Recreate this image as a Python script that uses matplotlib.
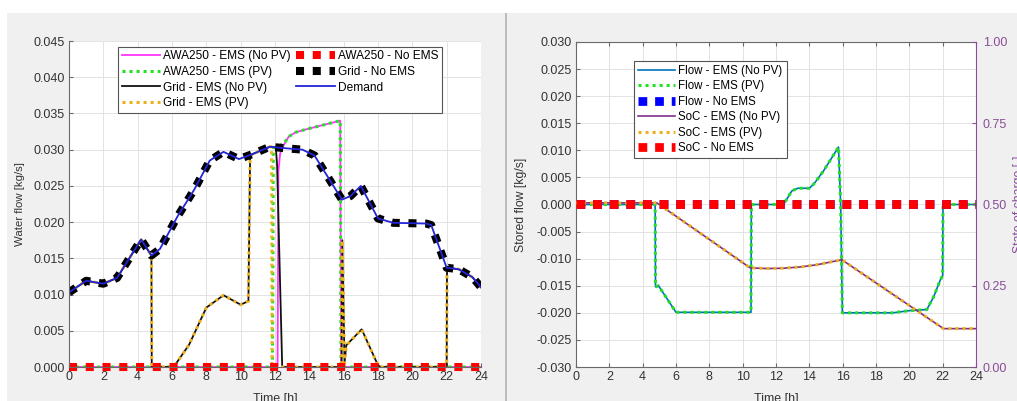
import matplotlib
matplotlib.use('Agg')
import matplotlib.pyplot as plt
from matplotlib.patches import Rectangle

plt.rcParams['font.family'] = ['Liberation Sans', 'DejaVu Sans']

# ---------------- left chart data (water flow) ----------------
t_dem = [0, 1, 2, 2.8, 4.2, 4.8, 5.3, 6.3, 7.3, 8.2, 9.0, 9.9, 10.7, 11.7, 12.6, 13.6,
         14.3, 15.9, 16.4, 17.0, 18.0, 18.9, 20.8, 21.1, 22.0, 22.7, 23.5, 24]
dem = [0.0103, 0.0119, 0.0115, 0.0123, 0.0176, 0.0154, 0.0163, 0.0207, 0.0245, 0.0285,
       0.0297, 0.0287, 0.0294, 0.0304, 0.0302, 0.0300, 0.0292, 0.0231, 0.0236, 0.0250,
       0.0205, 0.0199, 0.0198, 0.0196, 0.0137, 0.0135, 0.0124, 0.0110]

t_awa_nopv = [0, 12.15, 12.2, 12.3, 12.5, 12.8, 13.2, 13.8, 15.8, 15.85, 24]
awa_nopv = [0, 0, 0.0270, 0.0295, 0.0306, 0.0318, 0.0324, 0.0328, 0.0340, 0, 0]

t_awa_pv = [0, 11.85, 11.9, 12.5, 12.8, 13.2, 13.8, 15.8, 15.85, 24]
awa_pv = [0, 0, 0.0302, 0.0308, 0.0318, 0.0324, 0.0328, 0.0340, 0, 0]

t_grid_pv = [0, 1, 2, 2.8, 4.2, 4.8, 4.82, 6.1, 7.0, 8.0, 9.0, 10.0, 10.45, 10.55, 10.7,
             11.7, 11.8, 11.83, 15.88, 15.92, 16.05, 16.15, 17.05, 17.95, 18.1, 22.0,
             22.02, 22.7, 23.5, 24]
grid_pv = [0.0103, 0.0119, 0.0115, 0.0123, 0.0176, 0.0154, 0, 0, 0.0031, 0.0082, 0.0099,
           0.0086, 0.0091, 0.0291, 0.0294, 0.0304, 0.0304, 0, 0, 0.0175, 0.0005, 0.0030,
           0.0052, 0.0005, 0, 0, 0.0137, 0.0135, 0.0124, 0.0110]

t_grid_nopv = [0, 1, 2, 2.8, 4.2, 4.8, 4.82, 6.1, 7.0, 8.0, 9.0, 10.0, 10.45, 10.55, 10.7,
               11.7, 12.05, 12.12, 12.42, 15.88, 15.92, 16.05, 16.15, 17.05, 17.95, 18.1,
               22.0, 22.02, 22.7, 23.5, 24]
grid_nopv = [0.0103, 0.0119, 0.0115, 0.0123, 0.0176, 0.0154, 0, 0, 0.0031, 0.0082, 0.0099,
             0.0086, 0.0091, 0.0291, 0.0294, 0.0304, 0.0303, 0.0280, 0, 0, 0.0175, 0.0005,
             0.0030, 0.0052, 0.0005, 0, 0, 0.0137, 0.0135, 0.0124, 0.0110]

t_awa_noems = [0, 24]
awa_noems = [0, 0]

# ---------------- right chart data (storage) ----------------
t_flow = [0, 4.75, 4.77, 4.95, 6.0, 10.5, 10.52, 12.45, 12.95, 13.3, 14.0, 14.3, 14.85,
          15.75, 15.88, 15.98, 19.0, 20.0, 21.05, 21.45, 21.85, 22.0, 22.02, 24]
flow = [0, 0, -0.0152, -0.0150, -0.0199, -0.0199, 0, 0, 0.0025, 0.0030, 0.0030, 0.0039,
        0.0062, 0.0106, 0, -0.0200, -0.0200, -0.0196, -0.0194, -0.0171, -0.0140, -0.0131,
        0, 0]

t_soc = [0, 4.85, 10.45, 11.5, 12.45, 13.5, 14.5, 15.95, 22.05, 24]
soc = [0.505, 0.505, 0.305, 0.303, 0.304, 0.308, 0.315, 0.330, 0.118, 0.118]

t_noems = [0, 24]
flow_noems = [0, 0]
soc_noems = [0.5, 0.5]

xticks = list(range(0, 25, 2))

# ---------------- figure ----------------
W, H = 1017, 401
fig = plt.figure(figsize=(W / 100, H / 100), dpi=100, facecolor='white')
fig.patches.append(Rectangle((7 / W, 0), 498 / W, 388 / H, transform=fig.transFigure,
                             facecolor='#f0f0f0', edgecolor='none', zorder=-10))
fig.patches.append(Rectangle((505 / W, 0), 2 / W, 388 / H, transform=fig.transFigure,
                             facecolor='#bcbcbc', edgecolor='none', zorder=-10))
fig.patches.append(Rectangle((507 / W, 0), 510 / W, 388 / H, transform=fig.transFigure,
                             facecolor='#f0f0f0', edgecolor='none', zorder=-10))

ax1 = fig.add_axes([69 / W, 34 / H, 412 / W, 326 / H])
ax3 = fig.add_axes([576 / W, 34 / H, 400 / W, 325 / H])

thick = dict(linewidth=5.8, dashes=(1, 1.08), dash_capstyle='butt')
thick_r = dict(linewidth=6.3, dashes=(1, 0.9), dash_capstyle='butt')
dot = dict(linewidth=2.2, dashes=(1, 1.3), dash_capstyle='butt')

# left
ax1.plot(t_awa_nopv, awa_nopv, color='#ff33ff', linewidth=1.3, label='AWA250 - EMS (No PV)')
ax1.plot(t_awa_pv, awa_pv, color='#22e022', label='AWA250 - EMS (PV)', **dot)
ax1.plot(t_grid_nopv, grid_nopv, color='#111111', linewidth=1.3, label='Grid - EMS (No PV)')
ax1.plot(t_grid_pv, grid_pv, color='#EDB120', label='Grid - EMS (PV)', **dot)
ax1.plot(t_awa_noems, awa_noems, color='#ff0000', label='AWA250 - No EMS', clip_on=False, **thick)
ax1.plot(t_dem, dem, color='#000000', label='Grid - No EMS', **thick)
ax1.plot(t_dem, dem, color='#2424d8', linewidth=1.3, label='Demand')

ax1.set_xlim(0, 24)
ax1.set_ylim(0, 0.045)
ax1.set_xticks(xticks)
ax1.set_yticks([i * 0.005 for i in range(10)])
ax1.set_yticklabels(['%.3f' % (i * 0.005) for i in range(10)])
ax1.grid(True, color='#e3e3e3', linewidth=0.7)
ax1.set_axisbelow(True)
for s in ['top', 'right']:
    ax1.spines[s].set_visible(False)
for s in ['left', 'bottom']:
    ax1.spines[s].set_color('#6a6a6a')
    ax1.spines[s].set_linewidth(0.8)
ax1.tick_params(direction='in', length=3, width=0.8, color='#6a6a6a', labelsize=9,
                labelcolor='#333333', pad=3)
ax1.set_xlabel('Time [h]', fontsize=9, color='#333333')
ax1.set_ylabel('Water flow [kg/s]', fontsize=8.2, color='#333333')
ax1.xaxis.set_label_coords(0.5, -0.08)
ax1.yaxis.set_label_coords(-0.107, 0.5)
leg = ax1.legend(ncol=2, loc='upper left', bbox_to_anchor=(0.119, 0.982), fontsize=8.6,
                 handlelength=3.2, handletextpad=0.25, columnspacing=0.5, labelspacing=0.3,
                 borderpad=0.3, borderaxespad=0, fancybox=False, framealpha=1,
                 edgecolor='#555555')
leg.get_frame().set_linewidth(0.8)

# right
ax3.plot(t_flow, flow, color='#0072BD', linewidth=1.2, label='Flow - EMS (No PV)')
ax3.plot(t_flow, flow, color='#22e022', label='Flow - EMS (PV)', **dot)
ax3.plot(t_noems, flow_noems, color='#0000ff', label='Flow - No EMS', **thick_r)
ax3.set_xlim(0, 24)
ax3.set_ylim(-0.030, 0.030)
ax3.set_xticks(xticks)
ax3.set_yticks([-0.030 + i * 0.005 for i in range(13)])
ax3.set_yticklabels(['%.3f' % (-0.030 + i * 0.005) for i in range(13)])
ax3.grid(True, color='#e3e3e3', linewidth=0.7)
ax3.set_axisbelow(True)
for s in ['left', 'bottom', 'top']:
    ax3.spines[s].set_color('#6a6a6a')
    ax3.spines[s].set_linewidth(0.8)
ax3.spines['right'].set_visible(False)
ax3.tick_params(direction='in', length=3, width=0.8, color='#6a6a6a', labelsize=9,
                labelcolor='#333333', pad=3, top=True)
ax3.set_xlabel('Time [h]', fontsize=9, color='#333333')
ax3.set_ylabel('Stored flow [kg/s]', fontsize=8.8, color='#333333')
ax3.xaxis.set_label_coords(0.5, -0.08)
ax3.yaxis.set_label_coords(-0.1225, 0.5)

ax4 = ax3.twinx()
ax4.plot(t_soc, soc, color='#7E2F8E', linewidth=1.2, label='SoC - EMS (No PV)')
ax4.plot(t_soc, soc, color='#EDB120', label='SoC - EMS (PV)', **dot)
ax4.plot(t_noems, soc_noems, color='#ff0000', label='SoC - No EMS', **thick_r)
ax4.set_ylim(0, 1)
ax4.set_yticks([0, 0.25, 0.5, 0.75, 1.0])
ax4.set_yticklabels(['0.00', '0.25', '0.50', '0.75', '1.00'])
for s in ['left', 'bottom', 'top']:
    ax4.spines[s].set_visible(False)
ax4.spines['right'].set_color('#8a4d99')
ax4.spines['right'].set_linewidth(0.8)
ax4.tick_params(direction='in', length=3, width=0.8, color='#8a4d99', labelsize=9,
                labelcolor='#8a4d99', pad=5)
ax4.set_ylabel('State of charge [-]', fontsize=8.8, color='#8a4d99')
ax4.yaxis.set_label_coords(1.0925, 0.5)
ax4.yaxis.label.set_va('top')

h3, l3 = ax3.get_legend_handles_labels()
h4, l4 = ax4.get_legend_handles_labels()
leg2 = ax4.legend(h3 + h4, l3 + l4, loc='upper left', bbox_to_anchor=(0.145, 0.942),
                  fontsize=8.3, handlelength=3.2, handletextpad=0.3, labelspacing=0.3,
                  borderpad=0.35, borderaxespad=0, fancybox=False, framealpha=1,
                  edgecolor='#555555')
leg2.get_frame().set_linewidth(0.8)

fig.savefig('out.png', dpi=100, facecolor=fig.get_facecolor())
